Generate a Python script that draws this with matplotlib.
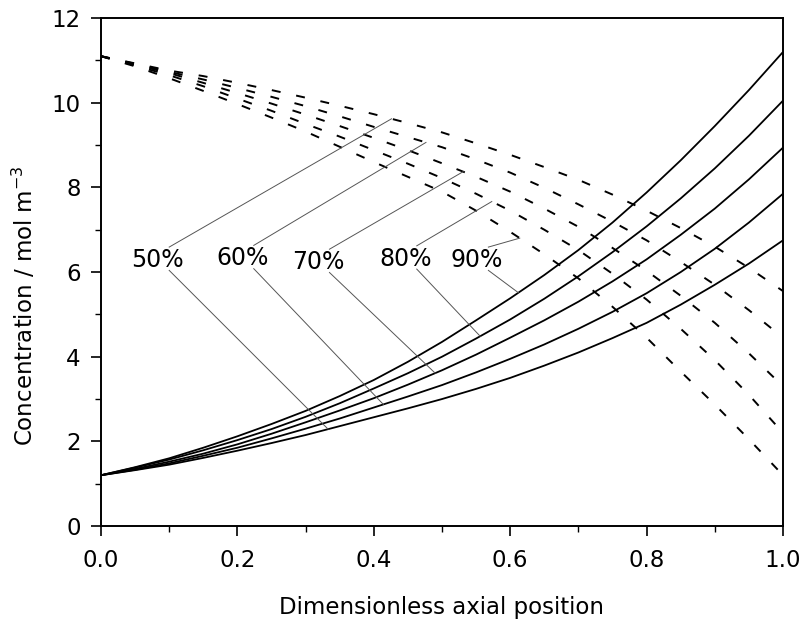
import numpy as np
import matplotlib
matplotlib.use("Agg")
import matplotlib.pyplot as plt

plt.rcParams['font.family'] = ['DejaVu Sans']

# ---------------- data ----------------
x_pos = [0.00, 0.05, 0.10, 0.15, 0.20, 0.25, 0.30, 0.35, 0.40, 0.45, 0.50,
         0.55, 0.60, 0.65, 0.70, 0.75, 0.80, 0.85, 0.90, 0.95, 1.00]
conversions = ["50%", "60%", "70%", "80%", "90%"]

# solid curves (rising)
solid_50 = [1.20, 1.32, 1.45, 1.61, 1.78, 1.96, 2.15, 2.36, 2.57, 2.78, 3.00,
            3.24, 3.50, 3.79, 4.10, 4.44, 4.80, 5.23, 5.70, 6.20, 6.75]
solid_60 = [1.20, 1.33, 1.48, 1.66, 1.85, 2.07, 2.30, 2.54, 2.80, 3.06, 3.33,
            3.63, 3.95, 4.29, 4.66, 5.06, 5.50, 6.00, 6.55, 7.17, 7.85]
solid_70 = [1.20, 1.35, 1.52, 1.71, 1.93, 2.18, 2.45, 2.73, 3.02, 3.34, 3.68,
            4.05, 4.45, 4.86, 5.30, 5.78, 6.30, 6.88, 7.50, 8.19, 8.94]
solid_80 = [1.20, 1.38, 1.57, 1.79, 2.03, 2.29, 2.58, 2.90, 3.25, 3.61, 4.00,
            4.43, 4.88, 5.37, 5.90, 6.47, 7.08, 7.74, 8.45, 9.22, 10.05]
solid_90 = [1.20, 1.39, 1.60, 1.85, 2.12, 2.41, 2.72, 3.07, 3.45, 3.88, 4.35,
            4.86, 5.38, 5.93, 6.52, 7.17, 7.88, 8.64, 9.45, 10.30, 11.20]

# dashed curves (falling)
dash_50 = [11.10, 10.93, 10.76, 10.63, 10.47, 10.30, 10.12, 9.93, 9.73, 9.52, 9.30,
           9.04, 8.77, 8.48, 8.18, 7.83, 7.45, 7.04, 6.60, 6.10, 5.55]
dash_60 = [11.10, 10.92, 10.73, 10.55, 10.35, 10.14, 9.92, 9.68, 9.43, 9.19, 8.95,
           8.66, 8.35, 7.99, 7.60, 7.19, 6.75, 6.24, 5.70, 5.10, 4.45]
dash_70 = [11.10, 10.90, 10.70, 10.47, 10.23, 9.98, 9.72, 9.45, 9.17, 8.88, 8.57,
           8.25, 7.90, 7.50, 7.07, 6.57, 6.03, 5.44, 4.80, 4.08, 3.30]
dash_80 = [11.10, 10.88, 10.65, 10.39, 10.10, 9.81, 9.50, 9.20, 8.88, 8.56, 8.22,
           7.85, 7.45, 7.00, 6.52, 5.96, 5.35, 4.66, 3.92, 3.10, 2.20]
dash_90 = [11.10, 10.86, 10.58, 10.28, 9.97, 9.65, 9.32, 8.96, 8.60, 8.25, 7.90,
           7.45, 6.95, 6.42, 5.85, 5.18, 4.45, 3.65, 2.87, 2.05, 1.20]

solids = [solid_50, solid_60, solid_70, solid_80, solid_90]
dashes = [dash_50, dash_60, dash_70, dash_80, dash_90]

# label placement (data coords) and leader anchor x on each curve
label_x = [0.083, 0.207, 0.318, 0.446, 0.551]
label_y = [6.29, 6.33, 6.24, 6.32, 6.29]
anchor_dash_x = [0.426, 0.4765, 0.531, 0.573, 0.614]
anchor_solid_x = [0.333, 0.414, 0.49, 0.556, 0.612]

# ---------------- figure ----------------
fig = plt.figure(figsize=(8.04, 6.24), dpi=100)
ax = fig.add_axes([0.1256, 0.157, 0.9739 - 0.1256, 0.971 - 0.157])

for s in solids:
    ax.plot(x_pos, s, color='black', lw=1.3, solid_capstyle='butt')
for d in dashes:
    ax.plot(x_pos, d, color='black', lw=1.4, linestyle=(0, (4.6, 8.2)))

for lab, lx, ly, adx, asx, dcur, scur in zip(conversions, label_x, label_y,
                                              anchor_dash_x, anchor_solid_x,
                                              dashes, solids):
    ax.text(lx, ly, lab, ha='center', va='center', fontsize=17, color='black')
    ydash = np.interp(adx, x_pos, dcur)
    ysol = np.interp(asx, x_pos, scur)
    sx = lx + 0.017
    ax.plot([sx, adx], [ly + 0.30, ydash], color='#555555', lw=0.7)
    ax.plot([sx, asx], [ly - 0.25, ysol], color='#555555', lw=0.7)

ax.set_xlim(0, 1.0)
ax.set_ylim(0, 12)
ax.set_xticks([0.0, 0.2, 0.4, 0.6, 0.8, 1.0])
ax.set_xticklabels(['0.0', '0.2', '0.4', '0.6', '0.8', '1.0'])
ax.set_yticks([0, 2, 4, 6, 8, 10, 12])
ax.set_xticks([0.1, 0.3, 0.5, 0.7, 0.9], minor=True)
ax.set_yticks([1, 3, 5, 7, 9, 11], minor=True)
ax.tick_params(which='major', direction='out', length=7.5, width=1.2,
               labelsize=16.5, top=False, right=False)
ax.tick_params(axis='x', which='major', pad=9)
ax.tick_params(axis='y', which='major', pad=7)
ax.tick_params(which='minor', direction='out', length=4, width=1.0,
               top=False, right=False)
for sp in ax.spines.values():
    sp.set_linewidth(1.4)

ax.set_xlabel('Dimensionless axial position', fontsize=16.5, labelpad=17)
ax.set_ylabel('Concentration / mol m$^{-3}$', fontsize=16.5)
ax.yaxis.set_label_coords(-0.093, 0.433)

fig.savefig('out.png', dpi=100, facecolor='white')
